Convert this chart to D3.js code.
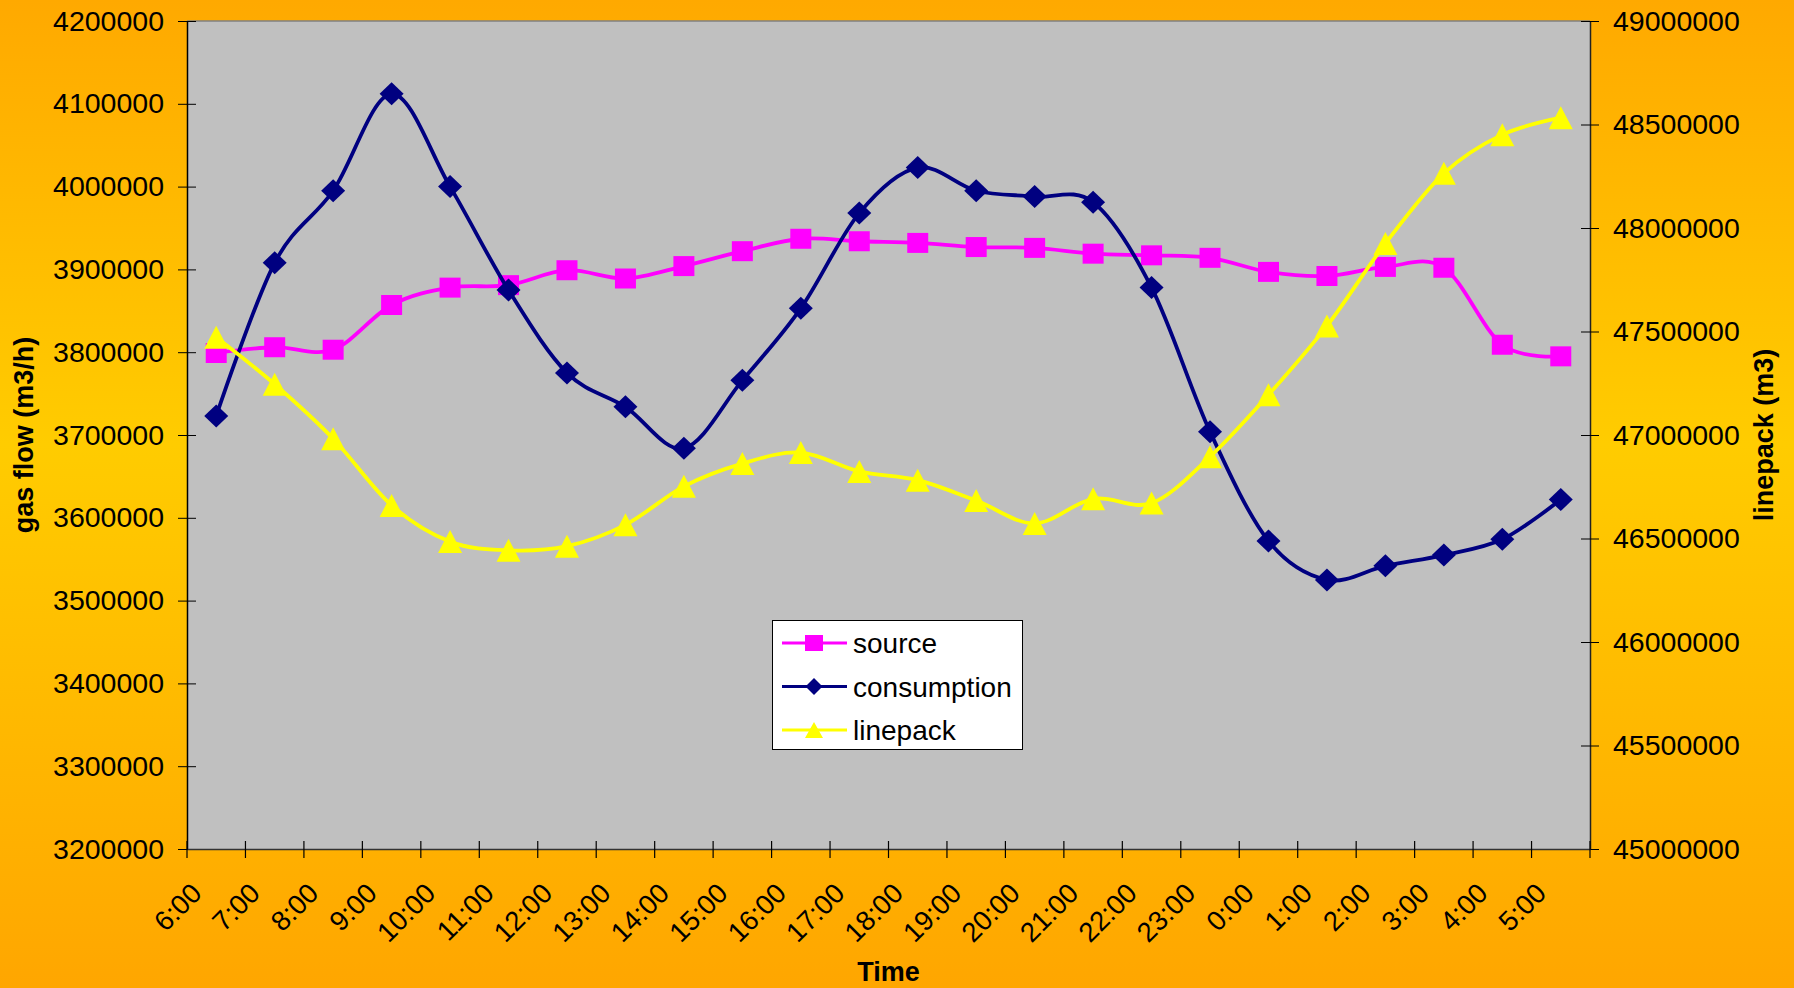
<!DOCTYPE html>
<html>
<head>
<meta charset="utf-8">
<script src="https://cdn.jsdelivr.net/npm/d3@7"></script>
<style>
body { margin: 0; }
text { font-family: "Liberation Sans", Arial, sans-serif; }
</style>
</head>
<body>
<div id="chart"></div>
<script>
const times = ['6:00', '7:00', '8:00', '9:00', '10:00', '11:00', '12:00', '13:00', '14:00', '15:00', '16:00', '17:00',
    '18:00', '19:00', '20:00', '21:00', '22:00', '23:00', '0:00', '1:00', '2:00', '3:00', '4:00', '5:00'];
const source = [3799000, 3806000, 3803000, 3857000, 3878000, 3881000, 3899000, 3889000, 3904000, 3922000, 3937000, 3934000,
    3932000, 3927000, 3926000, 3919000, 3917000, 3914000, 3897000, 3892000, 3903000, 3902000, 3809000, 3795000];
const consumption = [3723000, 3908000, 3995000, 4112000, 4000000, 3875000, 3775000, 3734000, 3684000, 3766000, 3853000, 3968000,
    4023000, 3995000, 3988000, 3981000, 3878000, 3704000, 3572000, 3525000, 3542000, 3555000, 3574000, 3622000];
const linepack = [47472000, 47245000, 46982000, 46660000, 46485000, 46443000, 46463000, 46566000, 46752000, 46862000, 46915000, 46824000,
    46782000, 46683000, 46573000, 46692000, 46671000, 46895000, 47194000, 47527000, 47925000, 48264000, 48451000, 48533000];
const flowTicks = [3200000, 3300000, 3400000, 3500000, 3600000, 3700000, 3800000, 3900000, 4000000, 4100000, 4200000];
const packTicks = [45000000, 45500000, 46000000, 46500000, 47000000, 47500000, 48000000, 48500000, 49000000];

window.addEventListener('load', function () {
    let width = 1794;
    let height = 988;
    let left = 187, right = 1590, top = 21, bottom = 849;

    let svg = d3.select('#chart').append('svg').attr('width', width).attr('height', height);

    // orange background gradient
    let grad = svg.append('defs').append('linearGradient').attr('id', 'bg')
        .attr('x1', 0).attr('y1', 0).attr('x2', 0).attr('y2', 1);
    grad.append('stop').attr('offset', '0%').attr('stop-color', '#FFA900');
    grad.append('stop').attr('offset', '45%').attr('stop-color', '#FFCC00');
    grad.append('stop').attr('offset', '100%').attr('stop-color', '#FFA600');
    svg.append('rect').attr('width', width).attr('height', height).attr('fill', 'url(#bg)');

    svg.append('rect').attr('x', left).attr('y', top).attr('width', right - left).attr('height', bottom - top)
        .attr('fill', '#C0C0C0');
    svg.append('line').attr('x1', left).attr('x2', right).attr('y1', top).attr('y2', top)
        .attr('stroke', '#808080').attr('stroke-width', 1.5);

    let xScale = d3.scaleBand().domain(times).range([left, right]);
    let cx = d => xScale(d) + xScale.bandwidth() / 2;
    let yFlow = d3.scaleLinear().domain([3200000, 4200000]).range([bottom, top]);
    let yPack = d3.scaleLinear().domain([45000000, 49000000]).range([bottom, top]);

    // left axis
    let gl = svg.append('g').attr('transform', `translate(${left},0)`)
        .call(d3.axisLeft(yFlow).tickValues(flowTicks).tickSize(9).tickSizeOuter(0).tickPadding(14).tickFormat(d3.format('d')));
    gl.selectAll('.tick line').attr('x1', 9).attr('stroke', '#000');
    gl.select('.domain').attr('stroke', '#000').attr('stroke-width', 1.5);
    gl.selectAll('text').style('font-size', '28.5px').attr('fill', '#000');

    // right axis
    let gr = svg.append('g').attr('transform', `translate(${right},0)`)
        .call(d3.axisRight(yPack).tickValues(packTicks).tickSize(9).tickSizeOuter(0).tickPadding(14).tickFormat(d3.format('d')));
    gr.selectAll('.tick line').attr('x1', -9).attr('stroke', '#000');
    gr.select('.domain').attr('stroke', '#222').attr('stroke-width', 1.5);
    gr.selectAll('text').style('font-size', '28.5px').attr('fill', '#000');

    // bottom axis, ticks between categories
    let gb = svg.append('g').attr('transform', `translate(0,${bottom})`)
        .call(d3.axisBottom(xScale).tickSize(0).tickSizeOuter(0));
    gb.select('.domain').attr('stroke', '#333').attr('stroke-width', 1.5);
    gb.selectAll('text')
        .style('font-size', '27.5px').attr('fill', '#000')
        .attr('text-anchor', 'end').attr('x', -13).attr('y', 46).attr('dy', 0)
        .attr('transform', 'rotate(-45,-13,46)');
    gb.selectAll('line.sep').data(times.concat(['end'])).enter().append('line').attr('class', 'sep')
        .attr('x1', d => d === 'end' ? right : xScale(d)).attr('x2', d => d === 'end' ? right : xScale(d))
        .attr('y1', -8).attr('y2', 9).attr('stroke', '#000').attr('stroke-width', 1.2);

    // axis titles
    svg.append('text').text('gas flow (m3/h)').attr('transform', 'translate(33,435) rotate(-90)')
        .attr('text-anchor', 'middle').style('font-size', '27px').style('font-weight', 'bold');
    svg.append('text').text('linepack (m3)').attr('transform', 'translate(1773,435) rotate(-90)')
        .attr('text-anchor', 'middle').style('font-size', '27px').style('font-weight', 'bold');
    svg.append('text').text('Time').attr('x', (left + right) / 2).attr('y', 981)
        .attr('text-anchor', 'middle').style('font-size', '27px').style('font-weight', 'bold');

    let tri = (w, h) => `M0,${-h / 2}L${w / 2},${h / 2}L${-w / 2},${h / 2}Z`;
    let series = [
        { name: 'source', values: source, y: yFlow, color: '#FF00FF', marker: 'M-10.5,-10L10.5,-10L10.5,10L-10.5,10Z', legendMarker: 'M-9,-8L9,-8L9,8L-9,8Z' },
        { name: 'consumption', values: consumption, y: yFlow, color: '#000080', marker: 'M0,-11.5L12,0L0,11.5L-12,0Z', legendMarker: 'M0,-8.5L8.5,0L0,8.5L-8.5,0Z' },
        { name: 'linepack', values: linepack, y: yPack, color: '#FFFF00', marker: tri(24, 23), legendMarker: tri(18, 16) }
    ];

    series.forEach(s => {
        let line = d3.line().x((d, i) => cx(times[i])).y(d => s.y(d)).curve(d3.curveCardinal.tension(0));
        svg.append('path').datum(s.values).attr('d', line)
            .attr('fill', 'none').attr('stroke', s.color).attr('stroke-width', 3.8);
        svg.selectAll('path.m-' + s.name).data(s.values).enter().append('path').attr('class', 'm-' + s.name)
            .attr('d', s.marker)
            .attr('transform', (d, i) => `translate(${cx(times[i])},${s.y(d)})`)
            .attr('fill', s.color);
    });

    // legend
    let lg = svg.append('g');
    lg.append('rect').attr('x', 772.5).attr('y', 620.5).attr('width', 250).attr('height', 129)
        .attr('fill', '#fff').attr('stroke', '#000').attr('stroke-width', 1);
    series.forEach((s, i) => {
        let yy = 643 + i * 43.5;
        lg.append('line').attr('x1', 782).attr('x2', 847).attr('y1', yy).attr('y2', yy)
            .attr('stroke', s.color).attr('stroke-width', 3);
        lg.append('path').attr('d', s.legendMarker).attr('transform', `translate(814,${yy})`).attr('fill', s.color);
        lg.append('text').text(s.name).attr('x', 853).attr('y', yy + 10).style('font-size', '28px');
    });
});
</script>
</body>
</html>
